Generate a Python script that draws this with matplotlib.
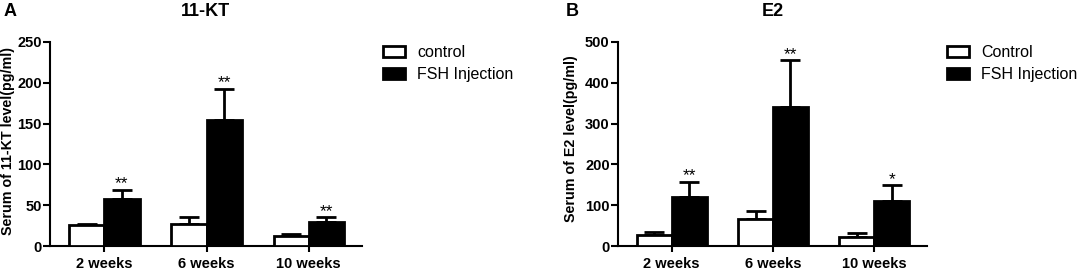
import matplotlib
matplotlib.use("Agg")
import matplotlib.pyplot as plt
import numpy as np
from matplotlib.patches import Patch

plt.rcParams['font.family'] = ['Liberation Sans', 'DejaVu Sans']

groups = ["2 weeks", "6 weeks", "10 weeks"]

kt_control = [26, 27, 12]
kt_control_err = [1.5, 8, 3]
kt_fsh = [57, 154, 30]
kt_fsh_err = [12, 39, 5]
kt_stars = ["**", "**", "**"]

e2_control = [27, 65, 23]
e2_control_err = [7, 20, 8]
e2_fsh = [120, 340, 110]
e2_fsh_err = [38, 115, 40]
e2_stars = ["**", "**", "*"]

fig = plt.figure(figsize=(10.84, 2.70), dpi=100)

def panel(rect, ctrl, cerr, fsh, ferr, stars, ymax, step, ylabel, ylab_xy, title, letter, letter_x,
          legend_labels, leg_x):
    ax = fig.add_axes(rect)
    x = np.arange(len(groups))
    w = 0.345
    ax.bar(x - w/2, ctrl, w, color='white', edgecolor='black', linewidth=2, zorder=3)
    ax.bar(x + w/2, fsh, w, color='black', edgecolor='black', linewidth=2, zorder=3)
    ax.errorbar(x - w/2, ctrl, yerr=[np.zeros(len(ctrl)), cerr], fmt='none', ecolor='black',
                elinewidth=2, capsize=7, capthick=2, zorder=2)
    ax.errorbar(x + w/2, fsh, yerr=[np.zeros(len(fsh)), ferr], fmt='none', ecolor='black',
                elinewidth=2, capsize=7, capthick=2, zorder=2)
    for xi, v, e, s in zip(x + w/2, fsh, ferr, stars):
        ax.annotate(s, (xi, v + e), xytext=(0, 0.8), textcoords='offset points',
                    ha='center', va='baseline', fontsize=12.5)
    ax.set_xlim(-0.53, 2.52)
    ax.set_ylim(0, ymax)
    ax.set_yticks(np.arange(0, ymax + 1, step))
    ax.set_xticks(x)
    ax.set_xticklabels(groups, fontsize=10.5, fontweight='bold')
    for lab in ax.get_yticklabels():
        lab.set_fontsize(10.5)
        lab.set_fontweight('bold')
    ax.tick_params(axis='y', direction='out', length=5, width=1.5, pad=1)
    ax.tick_params(axis='x', direction='out', length=4, width=1.5, pad=4)
    for sp in ['top', 'right']:
        ax.spines[sp].set_visible(False)
    for sp in ['left', 'bottom']:
        ax.spines[sp].set_linewidth(1.5)
    ax.set_ylabel(ylabel, fontsize=10.3, fontweight='bold')
    ax.yaxis.set_label_coords(*ylab_xy)
    fig.text(rect[0] + rect[2] * 0.5, 1 - 12/270, title, ha='center', va='center',
             fontsize=13, fontweight='bold')
    fig.text(letter_x, 1 - 12/270, letter, ha='left', va='center', fontsize=13, fontweight='bold')
    handles = [Patch(facecolor='white', edgecolor='black', linewidth=2),
               Patch(facecolor='black', edgecolor='black', linewidth=2)]
    fig.legend(handles, legend_labels, loc='upper left', bbox_to_anchor=(leg_x, 1 - 45/270),
               frameon=False, fontsize=11.5, handlelength=1.4, handleheight=0.65,
               handletextpad=0.75, labelspacing=0.45, borderpad=0, borderaxespad=0)
    return ax

panel([50/1084, 1 - 246/270, (362 - 50)/1084, (246 - 42)/270],
      kt_control, kt_control_err, kt_fsh, kt_fsh_err, kt_stars, 250, 50,
      "Serum of 11-KT level(pg/ml)", (-0.112, 0.515), "11-KT", "A", 4/1084,
      ["control", "FSH Injection"], 383/1084)

panel([618/1084, 1 - 246/270, (927 - 618)/1084, (246 - 42)/270],
      e2_control, e2_control_err, e2_fsh, e2_fsh_err, e2_stars, 500, 100,
      "Serum of E2 level(pg/ml)", (-0.13, 0.525), "E2", "B", 566/1084,
      ["Control", "FSH Injection"], 947/1084)

fig.savefig("out.png", dpi=100)
